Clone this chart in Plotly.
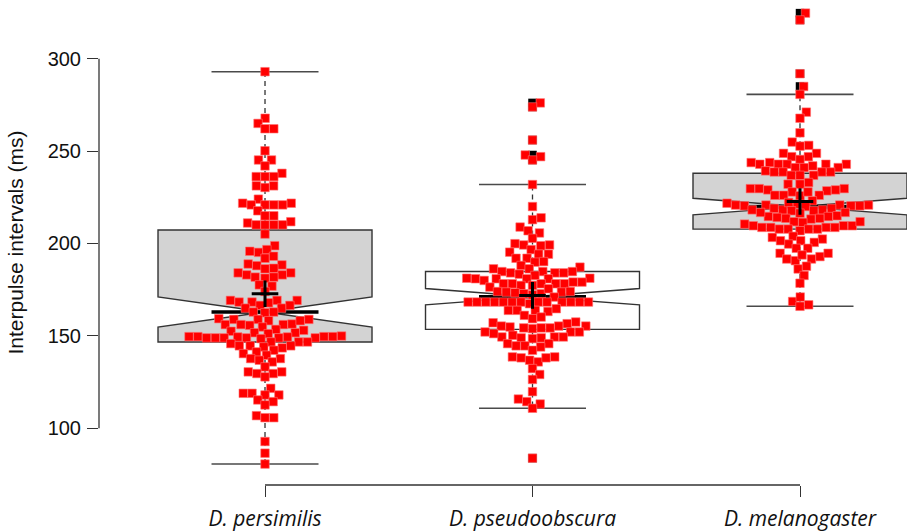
import numpy as np
import plotly.graph_objects as go

# ---------------- data ----------------
groups = ["D. persimilis", "D. pseudoobscura", "D. melanogaster"]
positions = [1, 2, 3]

q1 = [146.7, 153.5, 207.8]
medians = [162.9, 171.2, 220.0]
q3 = [207.3, 184.8, 238.0]
whisk_lo = [80.6, 110.8, 166.0]
whisk_hi = [293.0, 231.9, 280.7]
notch_half = [8.2, 4.4, 4.5]
means = [172.8, 171.9, 222.7]
box_fill = ["#d3d3d3", "#ffffff", "#d3d3d3"]

pers_vals = [293.0, 267.8, 265.0, 262.1, 262.1, 250.2, 245.2, 245.2, 242.0, 238.0,
             236.2, 236.2, 236.2, 231.2, 230.3, 231.2, 224.0, 221.8, 221.8, 220.9,
             220.9, 220.9, 220.9, 217.7, 215.0, 215.0, 211.1, 211.8, 210.1, 210.1,
             210.1, 210.1, 205.1, 198.8, 195.2, 196.7, 195.8, 192.0, 193.1,
             188.9, 188.4, 188.0, 186.3, 186.6, 184.1, 183.0, 183.0, 184.1, 181.8,
             181.8, 181.2, 177.6, 176.9, 174.0,
             169.2, 169.2, 169.2, 168.3, 168.3, 167.9, 166.5, 166.5, 165.0, 165.0,
             162.9, 162.9, 162.5,
             159.3, 158.9, 158.9, 158.2, 156.1, 156.1, 156.1, 155.7, 154.8, 156.4,
             158.2, 158.9,
             153.0, 153.5, 152.5, 151.2, 151.7, 151.7, 149.6, 149.6, 149.6, 149.6,
             148.9, 148.9, 148.9, 148.9, 148.9, 148.9, 149.4, 149.4, 148.5, 149.9,
             146.7, 146.7, 145.8, 144.6, 144.6, 144.6, 143.5, 144.0, 142.2, 146.7,
             140.4, 139.5, 141.3, 137.7, 137.7, 136.8, 135.9, 133.2, 130.5, 130.5,
             129.6, 129.6, 127.8,
             121.6, 118.9, 118.9, 118.0, 118.0, 115.3, 114.4, 112.6, 106.8, 105.7,
             105.7, 92.8, 86.5, 80.6]

pseudo_vals = [276.1, 273.9, 256.0, 247.9, 247.0, 245.2, 231.9, 220.0, 212.9, 213.9,
               208.9, 206.9, 205.7, 202.8, 199.2, 198.8, 199.2, 199.9, 196.7, 194.2,
               194.2, 195.3, 192.0, 192.0, 189.9, 190.2, 188.1, 187.2, 186.3, 186.3,
               184.8, 184.1, 182.7, 184.1, 184.8, 183.4, 184.1, 184.8,
               180.9, 181.2, 181.2, 180.9, 180.9, 180.9, 180.0,
               178.2, 177.3, 178.2, 178.2, 178.2, 178.2, 179.1, 176.4, 177.3, 179.1,
               173.7, 172.8, 174.0, 173.3, 173.7, 174.0, 175.5, 172.8, 171.0, 172.2,
               168.3, 168.3, 168.3, 168.3, 168.3, 168.3, 168.3, 168.3, 168.3, 168.3,
               168.3, 168.3, 168.3, 167.4,
               163.2, 164.7, 163.8, 163.8, 163.8, 161.1, 159.3, 160.2, 156.6, 157.1,
               157.5,
               153.9, 155.3, 154.3, 155.3, 154.3, 154.8, 152.1, 154.3, 155.3, 152.1,
               152.1, 150.3, 149.4,
               148.9, 149.4, 149.4, 148.5, 148.9, 151.2,
               145.8, 144.6, 144.6, 144.0, 145.8, 142.2,
               138.6, 138.1, 136.8, 135.9, 138.1, 138.6, 132.3, 129.1, 126.4, 119.8,
               115.8, 114.4, 113.1, 110.8, 83.8]

mel_vals = [324.7, 321.0, 291.9, 285.0, 280.7, 271.1, 267.8, 259.9, 253.1, 254.9,
            252.7, 248.8, 248.8, 247.0, 247.0, 245.5,
            243.8, 242.0, 241.1, 242.9, 242.9, 242.9, 242.9, 242.9, 241.1, 241.1,
            243.8,
            239.3, 238.7, 238.7, 238.7, 238.7, 236.9, 236.9, 236.9, 233.0, 232.1,
            232.1,
            229.7, 229.7, 227.9, 225.8, 228.5, 227.9, 226.1, 229.0, 226.1, 226.1,
            229.0, 229.7, 223.1,
            220.8, 220.8, 220.0, 218.2, 218.2, 221.3, 220.4, 219.0, 222.2, 220.4,
            217.7, 219.0, 220.4, 221.8, 218.2, 217.7, 220.8, 220.8,
            214.6, 214.6, 213.6, 216.4, 216.8, 213.2, 213.6, 214.1, 215.0, 216.8,
            211.4, 211.8,
            209.6, 209.6, 208.7, 207.8, 207.8, 207.8, 206.9, 210.5, 207.8, 208.7,
            208.7, 208.7, 209.6, 211.8,
            202.4, 203.3, 203.9, 201.5, 199.7, 201.5, 200.6, 197.4, 197.4,
            194.7, 191.6, 191.6, 190.7, 193.8, 192.9, 194.7, 186.2, 187.7, 182.7,
            178.5, 168.6, 171.0, 166.8, 166.0]

all_vals = [pers_vals, pseudo_vals, mel_vals]

# ---------------- layout geometry ----------------
W, H = 907, 532
ML, MR, MT, MB = 99, 0, 0, 45
x_range = [0.3794, 3.4]
y_range = [69.27, 331.8]
ppu_x = (W - ML - MR) / (x_range[1] - x_range[0])
ppu_y = (H - MT - MB) / (y_range[1] - y_range[0])
DOT = 8.8  # swarm spacing in px


def swarm(vals):
    """beeswarm 'swarm' layout (ascending priority), offsets in px."""
    v = np.asarray(vals, float) * ppu_y
    order = np.argsort(v, kind="stable")
    xs = np.zeros(len(v))
    px, py = [], []
    for i in order:
        y = v[i]
        cands = [0.0]
        for xj, yj in zip(px, py):
            dy = abs(y - yj)
            if dy < DOT:
                off = np.sqrt(DOT * DOT - dy * dy)
                cands += [xj + off, xj - off]
        cands.sort(key=abs)
        for c in cands:
            ok = True
            for xj, yj in zip(px, py):
                if (c - xj) ** 2 + (y - yj) ** 2 < DOT * DOT - 1e-6:
                    ok = False
                    break
            if ok:
                xs[i] = c
                break
        px.append(xs[i])
        py.append(y)
    return xs


fig = go.Figure()
line_col = "#333333"

# boxes
for p, a, m, b, n, f in zip(positions, q1, medians, q3, notch_half, box_fill):
    fig.add_trace(go.Box(
        x=[p], q1=[a], median=[m], q3=[b], lowerfence=[a], upperfence=[b],
        notchspan=[n], notched=True, notchwidth=0.5, width=0.8, whiskerwidth=0,
        fillcolor=f, line=dict(color=line_col, width=1.4), boxpoints=False,
        hoverinfo="skip", showlegend=False))

# whiskers (dashed) and staples
wx, wy, sx, sy = [], [], [], []
for p, a, b, lo, hi in zip(positions, q1, q3, whisk_lo, whisk_hi):
    wx += [p, p, None, p, p, None]
    wy += [b, hi, None, a, lo, None]
    sx += [p - 0.2, p + 0.2, None, p - 0.2, p + 0.2, None]
    sy += [hi, hi, None, lo, lo, None]
fig.add_trace(go.Scatter(x=wx, y=wy, mode="lines", showlegend=False, hoverinfo="skip",
                         line=dict(color=line_col, width=1.3, dash="5px,4px")))
fig.add_trace(go.Scatter(x=sx, y=sy, mode="lines", showlegend=False, hoverinfo="skip",
                         line=dict(color="#4a4a4a", width=1.6)))

# medians
mx, my = [], []
for p, m in zip(positions, medians):
    mx += [p - 0.2, p + 0.2, None]
    my += [m, m, None]
fig.add_trace(go.Scatter(x=mx, y=my, mode="lines", showlegend=False, hoverinfo="skip",
                         line=dict(color="black", width=3.5)))

# outliers (black squares at box centre)
ox, oy = [], []
for p, vals, lo, hi in zip(positions, all_vals, whisk_lo, whisk_hi):
    for v in vals:
        if v > hi + 0.01 or v < lo - 0.01:
            ox.append(p)
            oy.append(v)
fig.add_trace(go.Scatter(x=ox, y=oy, mode="markers", showlegend=False, hoverinfo="skip",
                         marker=dict(symbol="square", size=8.5, color="black",
                                     line=dict(width=0))))

# swarm points
for p, vals in zip(positions, all_vals):
    offs = swarm(vals)
    fig.add_trace(go.Scatter(
        x=p + offs / ppu_x, y=vals, mode="markers", showlegend=False, hoverinfo="skip",
        marker=dict(symbol="square", size=8.5, color="#ff0000",
                    line=dict(color="#ff7070", width=0.6))))

# means
fig.add_trace(go.Scatter(x=positions, y=means, mode="markers", showlegend=False,
                         hoverinfo="skip",
                         marker=dict(symbol="cross-thin", size=19,
                                     line=dict(color="black", width=3))))

fig.update_layout(
    width=W, height=H, margin=dict(l=ML, r=MR, t=MT, b=MB),
    paper_bgcolor="white", plot_bgcolor="white",
    font=dict(family="Liberation Sans, Arial, sans-serif", color="#111111"),
    xaxis=dict(range=x_range, showgrid=False, zeroline=False, showline=False,
               tickvals=positions, ticktext=["<i>%s</i>" % g for g in groups],
               ticks="outside", ticklen=11, tickwidth=1.3, tickcolor=line_col,
               tickfont=dict(family="Open Sans, sans-serif", size=21, color="#111111"),
               ticklabelstandoff=4),
    yaxis=dict(range=y_range, showgrid=False, zeroline=False, showline=False,
               tickvals=[100, 150, 200, 250, 300], ticks="outside", ticklen=11,
               tickwidth=1.3, tickcolor=line_col,
               tickfont=dict(size=20, color="#111111"), ticklabelstandoff=2,
               title=dict(text="Interpulse intervals (ms)", font=dict(size=21),
                          standoff=18)),
    shapes=[
        dict(type="line", xref="paper", yref="y", x0=0, x1=0, y0=100, y1=300,
             line=dict(color=line_col, width=1.3)),
        dict(type="line", xref="x", yref="paper", x0=1, x1=3, y0=0, y1=0,
             line=dict(color=line_col, width=1.3)),
    ],
)

fig.write_html("out.html")
